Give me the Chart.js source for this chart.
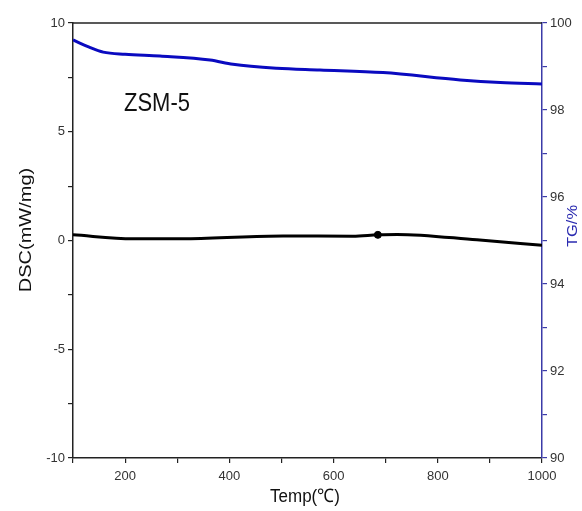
<!DOCTYPE html>
<html>
<head>
<meta charset="utf-8">
<script src="https://cdn.jsdelivr.net/npm/chart.js@4.4.1/dist/chart.umd.min.js"></script>
<style>
html,body{margin:0;padding:0;background:#fff;}
#c{display:block;}
</style>
</head>
<body>
<canvas id="c" width="582" height="511"></canvas>
<script>
// ---- Data ----
const tgTemps = [100, 130, 158, 200, 267, 363, 407, 491, 574, 695, 843, 920, 1000];
const tgValues = [99.61, 99.45, 99.33, 99.28, 99.24, 99.15, 99.05, 98.96, 98.92, 98.86, 98.69, 98.63, 98.60];
const dscTemps = [100, 215, 318, 503, 637, 685, 722, 875, 1000];
const dscValues = [0.26, 0.08, 0.08, 0.21, 0.20, 0.26, 0.28, 0.03, -0.22];
const markerTemps = [685];
const markerValues = [0.26];
const sampleLabel = "ZSM-5";
const xTitle = "Temp(℃)";
const yLeftTitle = "DSC(mW/mg)";
const yRightTitle = "TG/%";

const FONT = "'Liberation Sans', Arial, sans-serif";
const BLUE = "#0a0ac0";
const AXIS_BLUE = "#3b3ba8";

const toPts = (xs, ys) => xs.map((x, i) => ({x: x, y: ys[i]}));

function drawStretched(ctx, text, x, y, font, color, rot, sx, sy) {
  ctx.save();
  ctx.translate(x, y);
  ctx.rotate(rot);
  ctx.scale(sx, sy);
  ctx.font = font;
  ctx.fillStyle = color;
  ctx.textAlign = "center";
  ctx.textBaseline = "middle";
  ctx.fillText(text, 0, 0);
  ctx.restore();
}

const textPlugin = {
  id: "texts",
  afterDraw(chart) {
    const ctx = chart.ctx;
    const a = chart.chartArea;
    // top frame line
    ctx.save();
    ctx.strokeStyle = "#222";
    ctx.lineWidth = 1.5;
    ctx.beginPath();
    ctx.moveTo(a.left, a.top);
    ctx.lineTo(a.right, a.top);
    ctx.stroke();
    ctx.restore();
    drawStretched(ctx, sampleLabel, 157, 104, "22px " + FONT, "#111", 0, 1, 1.2);
    drawStretched(ctx, yLeftTitle, 27, 230, "16px " + FONT, "#111", -Math.PI / 2, 1.25, 1);
    drawStretched(ctx, xTitle, 305, 497, "17px " + FONT, "#111", 0, 1, 1.1);
    drawStretched(ctx, yRightTitle, 573, 226, "15px " + FONT, "#2a2ab0", -Math.PI / 2, 1.1, 1);
  }
};

new Chart(document.getElementById("c"), {
  type: "line",
  data: {
    datasets: [
      {
        label: "TG",
        data: toPts(tgTemps, tgValues),
        yAxisID: "y2",
        borderColor: BLUE,
        borderWidth: 3,
        pointRadius: 0,
        tension: 0.4,
        cubicInterpolationMode: "monotone"
      },
      {
        label: "DSC",
        data: toPts(dscTemps, dscValues),
        yAxisID: "y",
        borderColor: "#000",
        borderWidth: 3,
        pointRadius: 0,
        tension: 0.3,
        cubicInterpolationMode: "monotone"
      },
      {
        label: "marker",
        data: toPts(markerTemps, markerValues),
        yAxisID: "y",
        showLine: false,
        pointRadius: 3.5,
        pointBackgroundColor: "#000",
        pointBorderColor: "#000"
      }
    ]
  },
  options: {
    responsive: false,
    animation: false,
    devicePixelRatio: 1,
    layout: {padding: {top: 23, left: 0, right: 0, bottom: 0}},
    plugins: {legend: {display: false}, tooltip: {enabled: false}},
    scales: {
      x: {
        type: "linear",
        min: 100, max: 1000,
        afterFit: s => { s.height = 53; },
        ticks: {
          stepSize: 100,
          autoSkip: false,
          maxRotation: 0,
          padding: 6,
          color: "#333",
          font: {family: FONT, size: 13},
          callback: v => (v % 200 === 0 ? String(v) : "")
        },
        grid: {drawOnChartArea: false, drawTicks: true, tickLength: 5, color: "#222", lineWidth: 1.2},
        border: {color: "#222", width: 1.5}
      },
      y: {
        position: "left",
        min: -10, max: 10,
        afterFit: s => { s.width = 73; },
        ticks: {
          stepSize: 2.5,
          autoSkip: false,
          padding: 3,
          color: "#333",
          font: {family: FONT, size: 13},
          callback: v => (v % 5 === 0 ? String(v) : "")
        },
        grid: {drawOnChartArea: false, drawTicks: true, tickLength: 5, color: "#222", lineWidth: 1.2},
        border: {color: "#222", width: 1.5}
      },
      y2: {
        position: "right",
        min: 90, max: 100,
        afterFit: s => { s.width = 40; },
        ticks: {
          stepSize: 1,
          autoSkip: false,
          padding: 3,
          color: "#333",
          font: {family: FONT, size: 13},
          callback: v => (v % 2 === 0 ? String(v) : "")
        },
        grid: {drawOnChartArea: false, drawTicks: true, tickLength: 5, color: AXIS_BLUE, lineWidth: 1.2},
        border: {color: AXIS_BLUE, width: 1.5}
      }
    }
  },
  plugins: [textPlugin]
});
</script>
</body>
</html>
